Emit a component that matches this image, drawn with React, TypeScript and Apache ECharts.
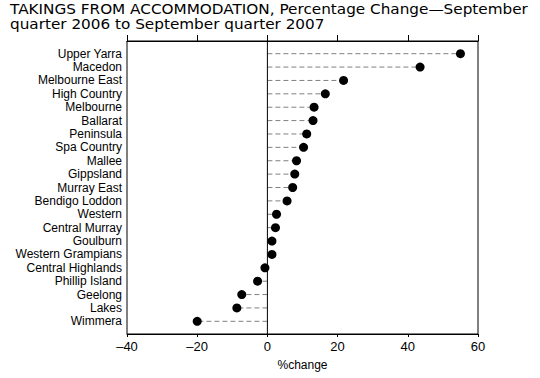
import React, { useEffect, useRef } from "react";
import * as echarts from "echarts";

const regions = [
  "Upper Yarra", "Macedon", "Melbourne East", "High Country", "Melbourne",
  "Ballarat", "Peninsula", "Spa Country", "Mallee", "Gippsland",
  "Murray East", "Bendigo Loddon", "Western", "Central Murray", "Goulburn",
  "Western Grampians", "Central Highlands", "Phillip Island", "Geelong", "Lakes", "Wimmera",
];
const pctChange = [
  55.0, 43.5, 21.7, 16.5, 13.3,
  13.0, 11.2, 10.3, 8.3, 7.8,
  7.2, 5.6, 2.6, 2.3, 1.3,
  1.3, -0.7, -2.8, -7.3, -8.7, -20.0,
];
const xTicks = { min: -40, max: 60, step: 20 };
const titleLine1 = "TAKINGS FROM ACCOMMODATION, Percentage Change\u2014September";
const titleLine2 = "quarter 2006 to September quarter 2007";
const xName = "%change";

const FONT = "Liberation Sans, Arial, sans-serif";
const TFONT = "DejaVu Sans, sans-serif";

export default function App() {
  const ref = useRef<HTMLDivElement>(null);
  useEffect(() => {
    const chart = echarts.init(ref.current!, null, { renderer: "svg" });
    const fmt = (v: number) => (v < 0 ? "\u2013" + Math.abs(v) : String(v));
    const titleStyle = { font: `13.5px ${TFONT}`, fill: "#000", verticalAlign: "middle", align: "left" };
    chart.setOption({
      animation: false,
      backgroundColor: "#fff",
      graphic: [
        { type: "text", x: 10, y: 9.5, scaleX: 1.13, silent: true, style: { ...titleStyle, text: titleLine1 } },
        { type: "text", x: 10, y: 24.5, scaleX: 1.13, silent: true, style: { ...titleStyle, text: titleLine2 } },
      ],
      grid: [
        { left: 127, right: 62, top: 41, bottom: 44, show: true, borderColor: "#000", borderWidth: 1, backgroundColor: "transparent" },
        { left: 127, right: 62, top: 47, bottom: 50, show: false },
      ],
      xAxis: [
        {
          gridIndex: 0, type: "value", position: "bottom", min: xTicks.min, max: xTicks.max, interval: xTicks.step,
          axisLine: { show: true, lineStyle: { color: "#000" } },
          axisTick: { show: true, length: 3, lineStyle: { color: "#000" } },
          splitLine: { show: false },
          axisLabel: { formatter: fmt, color: "#000", fontFamily: FONT, fontSize: 13, margin: 6 },
          name: xName, nameLocation: "middle", nameGap: 25,
          nameTextStyle: { color: "#000", fontFamily: FONT, fontSize: 12 },
        },
        {
          gridIndex: 0, type: "value", position: "top", min: xTicks.min, max: xTicks.max, interval: xTicks.step,
          axisLine: { show: true, lineStyle: { color: "#000" } },
          axisTick: { show: true, length: 6, lineStyle: { color: "#000" } },
          splitLine: { show: false },
          axisLabel: { show: false },
        },
        {
          gridIndex: 1, type: "value", min: xTicks.min, max: xTicks.max, interval: xTicks.step, show: false,
          splitLine: { show: false },
        },
      ],
      yAxis: [
        { gridIndex: 0, type: "value", min: 0, max: 1, show: false, splitLine: { show: false } },
        {
          gridIndex: 1, type: "category", data: regions, inverse: true,
          axisLine: { show: false }, axisTick: { show: false }, splitLine: { show: false },
          axisLabel: { color: "#000", fontFamily: FONT, fontSize: 12, margin: 5, interval: 0 },
        },
      ],
      series: [
        {
          type: "line", xAxisIndex: 0, yAxisIndex: 0, data: [[0, 0], [0, 1]],
          symbol: "none", lineStyle: { color: "#000", width: 1 }, silent: true,
        },
        {
          type: "custom", xAxisIndex: 2, yAxisIndex: 1,
          data: pctChange.map((v, i) => [i, v]),
          encode: { x: 1, y: 0 },
          renderItem: (params: any, api: any) => {
            const idx = api.value(0);
            const v = api.value(1);
            const p0 = api.coord([0, idx]);
            const p1 = api.coord([v, idx]);
            return {
              type: "line",
              shape: { x1: p0[0], y1: p0[1], x2: p1[0], y2: p1[1] },
              style: { stroke: "#808080", lineWidth: 1, lineDash: [5, 3] },
            };
          },
          silent: true,
        },
        {
          type: "scatter", xAxisIndex: 2, yAxisIndex: 1,
          data: pctChange.map((v, i) => [v, regions[i]]),
          symbol: "circle", symbolSize: 9,
          itemStyle: { color: "#000", opacity: 1 },
          silent: true,
        },
      ],
    });
    return () => chart.dispose();
  }, []);
  return <div ref={ref} style={{ width: 540, height: 378, position: "absolute", left: 0, top: 0 }} />;
}
